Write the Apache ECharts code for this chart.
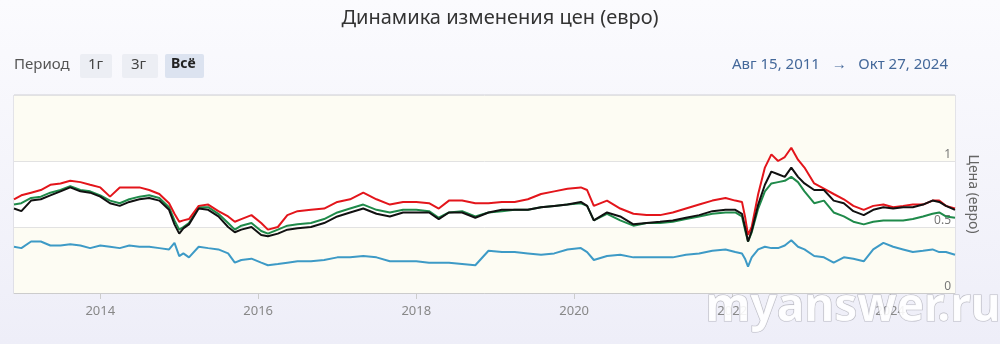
<!DOCTYPE html>
<html><head><meta charset="utf-8">
<script src="https://cdn.jsdelivr.net/npm/echarts@6/dist/echarts.min.js"></script>
<style>html,body{margin:0;padding:0;background:linear-gradient(#fbfbfe,#eeeef8);} #c{width:1000px;height:344px;}</style>
</head><body><div id="c"></div><script>
const dates = ['2012-11-28','2013-01-01','2013-02-15','2013-04-01','2013-05-15','2013-07-01','2013-08-15','2013-10-01','2013-11-15',
'2014-01-01','2014-02-15','2014-04-01','2014-05-15','2014-07-01','2014-08-15','2014-10-01','2014-11-15','2014-12-10',
'2015-01-01','2015-01-20','2015-02-15','2015-04-01','2015-05-15','2015-07-01','2015-08-15','2015-09-15','2015-10-15','2015-12-01',
'2016-01-15','2016-02-15','2016-04-01','2016-05-15','2016-07-01','2016-09-01','2016-11-01',
'2017-01-01','2017-03-01','2017-05-01','2017-07-01','2017-09-01','2017-11-01',
'2018-01-01','2018-03-01','2018-04-15','2018-06-01','2018-08-01','2018-10-01','2018-12-01',
'2019-02-01','2019-04-01','2019-06-01','2019-08-01','2019-10-01','2019-12-01',
'2020-02-01','2020-03-01','2020-04-01','2020-06-01','2020-08-01','2020-10-01','2020-12-01',
'2021-02-01','2021-04-01','2021-06-01','2021-08-01','2021-10-01','2021-12-01',
'2022-01-15','2022-02-15','2022-03-01','2022-03-15','2022-04-01','2022-05-01','2022-06-01','2022-07-01','2022-08-01','2022-09-01','2022-10-01','2022-11-01','2022-12-01',
'2023-01-15','2023-03-01','2023-04-15','2023-06-01','2023-07-15','2023-09-01','2023-10-15','2023-12-01',
'2024-01-15','2024-03-01','2024-04-15','2024-06-01','2024-07-15','2024-08-15','2024-09-15','2024-10-27'];
const red = [0.71,0.74,0.76,0.78,0.82,0.83,0.85,0.84,0.82,
0.80,0.73,0.80,0.80,0.80,0.78,0.75,0.68,0.60,
0.54,0.55,0.56,0.66,0.67,0.62,0.58,0.54,0.56,0.59,
0.53,0.48,0.50,0.59,0.62,0.63,0.64,
0.69,0.71,0.76,0.71,0.67,0.69,
0.69,0.68,0.64,0.70,0.70,0.68,0.68,
0.69,0.69,0.71,0.75,0.77,0.79,
0.80,0.78,0.66,0.70,0.64,0.60,0.59,
0.59,0.61,0.64,0.67,0.70,0.72,
0.70,0.69,0.58,0.44,0.50,0.75,0.95,1.05,1.00,1.03,1.10,1.01,0.95,
0.83,0.79,0.75,0.71,0.66,0.63,0.66,0.67,
0.65,0.66,0.67,0.67,0.70,0.70,0.66,0.64];
const green = [0.67,0.68,0.72,0.73,0.76,0.78,0.81,0.78,0.77,
0.74,0.70,0.68,0.71,0.73,0.74,0.72,0.65,0.55,
0.48,0.50,0.53,0.65,0.65,0.60,0.53,0.48,0.51,0.53,
0.47,0.45,0.48,0.51,0.52,0.53,0.56,
0.61,0.64,0.67,0.63,0.61,0.63,
0.63,0.62,0.57,0.61,0.62,0.58,0.61,
0.62,0.63,0.63,0.65,0.66,0.67,
0.68,0.66,0.55,0.60,0.55,0.51,0.53,
0.53,0.54,0.56,0.58,0.60,0.61,
0.61,0.58,0.48,0.39,0.46,0.64,0.77,0.83,0.84,0.85,0.88,0.84,0.77,
0.68,0.70,0.61,0.58,0.54,0.52,0.54,0.55,
0.55,0.55,0.56,0.58,0.60,0.61,0.58,0.57];
const black = [0.64,0.62,0.70,0.71,0.74,0.77,0.80,0.77,0.76,
0.73,0.68,0.66,0.69,0.71,0.72,0.70,0.63,0.52,
0.45,0.49,0.52,0.64,0.63,0.58,0.50,0.46,0.48,0.50,
0.44,0.43,0.45,0.48,0.49,0.50,0.53,
0.58,0.61,0.64,0.60,0.58,0.61,
0.61,0.61,0.56,0.61,0.61,0.57,0.61,
0.63,0.63,0.63,0.65,0.66,0.67,
0.69,0.66,0.55,0.61,0.58,0.52,0.53,
0.54,0.55,0.57,0.59,0.62,0.63,
0.63,0.60,0.50,0.39,0.47,0.67,0.82,0.92,0.90,0.88,0.95,0.88,0.83,
0.78,0.78,0.70,0.68,0.62,0.59,0.63,0.65,
0.64,0.65,0.65,0.67,0.70,0.69,0.66,0.63];
const blue = [0.35,0.34,0.39,0.39,0.36,0.36,0.37,0.36,0.34,
0.36,0.35,0.34,0.36,0.35,0.35,0.34,0.33,0.38,
0.28,0.30,0.27,0.35,0.34,0.33,0.30,0.23,0.25,0.26,
0.23,0.21,0.22,0.23,0.24,0.24,0.25,
0.27,0.27,0.28,0.27,0.24,0.24,
0.24,0.23,0.23,0.23,0.22,0.21,0.32,
0.31,0.31,0.30,0.29,0.30,0.33,
0.34,0.31,0.25,0.28,0.29,0.27,0.27,
0.27,0.27,0.29,0.30,0.32,0.33,
0.31,0.30,0.26,0.20,0.27,0.33,0.35,0.34,0.34,0.36,0.40,0.35,0.33,
0.28,0.27,0.23,0.27,0.26,0.24,0.33,0.38,
0.35,0.33,0.31,0.32,0.33,0.31,0.31,0.29];
const tickYears = [2014,2016,2018,2020,2022,2024];
const yTicks = [0, 0.5, 1, 1.5];

const ts = s => Date.parse(s + 'T00:00:00Z');
const pair = v => dates.map((d,i)=>[ts(d), v[i]]);
const tickTimes = tickYears.map(y => ts(y + '-01-01'));
const chart = echarts.init(document.getElementById('c'), null, {renderer:'canvas'});
const font = '"Noto Sans", sans-serif';
const mkLine = (name, data, color, z) => ({
  name, type:'line', data: pair(data), showSymbol:false, z,
  lineStyle:{color, width:2}, itemStyle:{color}, animation:false
});
chart.setOption({
  animation:false,
  textStyle:{fontFamily:font},
  grid:{left:14, right:45, top:95, bottom:51, show:true, borderColor:'#cfcfd4', borderWidth:1, backgroundColor:'#fff'},
  xAxis:{
    type:'value', min:ts('2012-11-28'), max:ts('2024-10-27'),
    axisLine:{show:true, lineStyle:{color:'#cccccc'}},
    axisTick:{show:true, customValues:tickTimes, length:6, lineStyle:{color:'#cccccc'}},
    axisLabel:{customValues:tickTimes, formatter:v=>String(new Date(v).getUTCFullYear()), color:'#888', fontSize:13, margin:12, fontFamily:font},
    splitLine:{show:false}
  },
  yAxis:{
    type:'value', min:yTicks[0], max:yTicks[yTicks.length-1], interval:0.5, position:'right',
    name:'Цена (евро)', nameLocation:'middle', nameRotate:-90, nameGap:11,
    nameTextStyle:{color:'#666', fontSize:14, fontFamily:font},
    axisLine:{show:false}, axisTick:{show:false},
    axisLabel:{inside:true, verticalAlign:'bottom', margin:4, color:'#777', fontSize:12,
      formatter:v=> v===1.5 ? '' : String(v)},
    splitLine:{lineStyle:{color:'#e2e2e2'}},
    splitArea:{show:true, areaStyle:{color:['#fdfcf3','#ffffff']}}
  },
  series:[
    mkLine('blue', blue, '#3d9ac6', 2),
    mkLine('green', green, '#1f8a4a', 3),
    mkLine('red', red, '#e3151b', 4),
    mkLine('black', black, '#111111', 5)
  ],
  graphic:[
    {type:'text', left:'center', top:8, style:{text:'Динамика изменения цен (евро)', fill:'#333', font:'20px '+font}},
    {type:'text', left:14, top:57, style:{text:'Период', fill:'#555', font:'15px '+font}},
    {type:'rect', left:80, top:54, shape:{width:32, height:24, r:2}, style:{fill:'#eceef4'}},
    {type:'text', left:88, top:57, style:{text:'1г', fill:'#444', font:'15px '+font}},
    {type:'rect', left:122, top:54, shape:{width:36, height:24, r:2}, style:{fill:'#eceef4'}},
    {type:'text', left:131, top:57, style:{text:'3г', fill:'#444', font:'15px '+font}},
    {type:'rect', left:165, top:54, shape:{width:39, height:24, r:2}, style:{fill:'#dce3f0'}},
    {type:'text', left:171, top:57, style:{text:'Всё', fill:'#222', font:'bold 14px '+font}},
    {type:'text', right:52, top:57, style:{text:'Авг 15, 2011   →   Окт 27, 2024', fill:'#44689a', font:'15px '+font}},
    {type:'text', left:705, top:284, z:100, style:{text:'myanswer.ru', fill:'rgba(255,255,255,0.9)', stroke:'rgba(140,140,150,0.55)', lineWidth:1.2, font:'bold 46px '+font}}
  ]
});
</script></body></html>
